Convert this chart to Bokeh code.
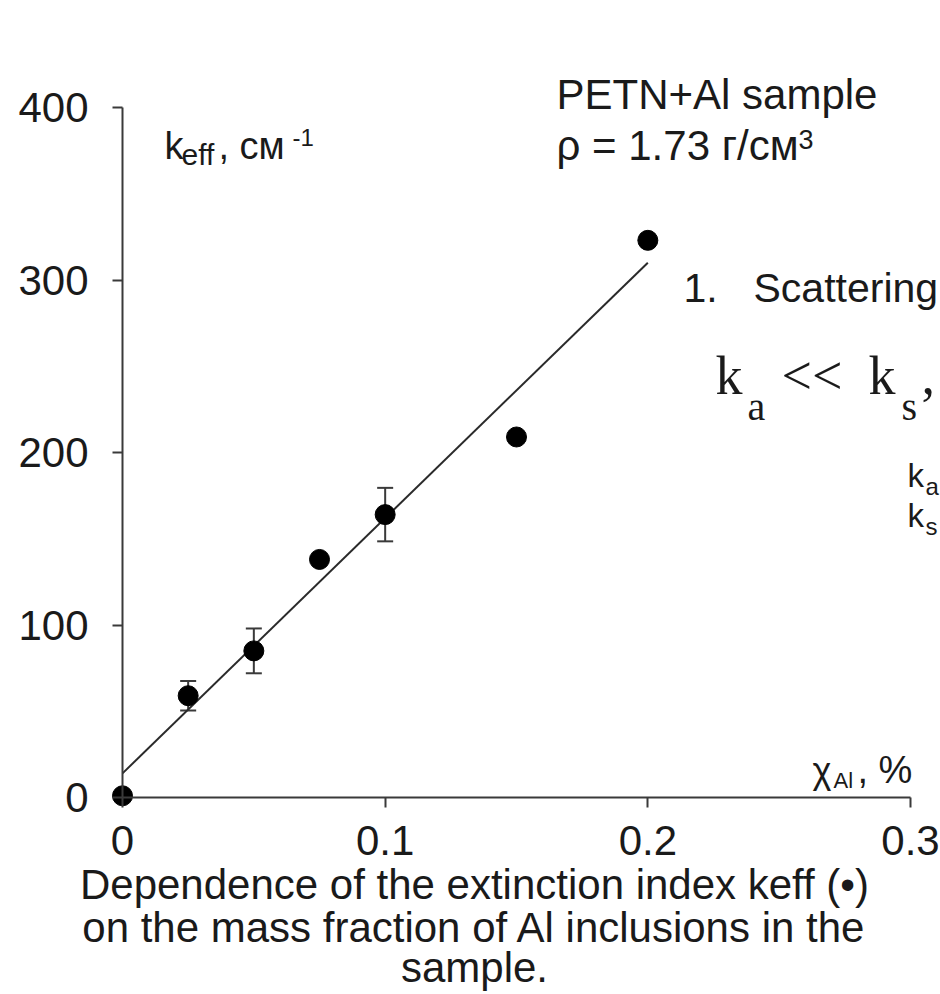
from bokeh.plotting import figure
from bokeh.models import Range1d, Label, Whisker, ColumnDataSource, FixedTicker, TeeHead
from bokeh.embed import file_html
from bokeh.resources import INLINE

# ---- data ----
x_frac = [0.0, 0.025, 0.05, 0.075, 0.1, 0.15, 0.2]      # mass fraction of Al, %
k_eff = [1, 59, 85, 138, 164, 209, 323]                  # extinction index, cm^-1
err_x = [0.025, 0.05, 0.1]
err_y = [59, 85, 164]
err_half = [8.5, 13, 15.5]
fit_x = [0.0, 0.2]
fit_y = [14, 310]
x_ticks = [0, 0.1, 0.2, 0.3]
x_tick_labels = ["0", "0.1", "0.2", "0.3"]
y_ticks = [0, 100, 200, 300, 400]
y_tick_labels = ["0", "100", "200", "300", "400"]
caption_lines = [
    "Dependence of the extinction index keff (\u2022)",
    "on the mass fraction of Al inclusions in the",
    "sample.",
]

SANS = "Liberation Sans"
SERIF = "Liberation Serif"
INK = "#1a1a1a"
AXIS = "#3a3a3a"

W, H = 940, 994
# axes placement inside the canvas (pixels)
X0_PX, X1_PX = 122, 910      # x = 0 ... 0.3
Y0_PX, Y1_PX = 797, 107      # y = 0 ... 400
XS = (X1_PX - X0_PX) / 0.3
YS = (Y0_PX - Y1_PX) / 400.0

p = figure(width=W, height=H, output_backend="svg", toolbar_location=None,
           x_range=Range1d(-X0_PX / XS, 0.3 + (W - X1_PX) / XS),
           y_range=Range1d(-(H - Y0_PX) / YS, 400 + Y1_PX / YS),
           min_border=0)
p.outline_line_color = None
p.grid.visible = False
p.background_fill_color = "white"
p.border_fill_color = "white"

p.xaxis.fixed_location = 0
p.yaxis.fixed_location = 0
p.xaxis.bounds = (0, 0.3)
p.yaxis.bounds = (0, 400)

for ax, ticks, labels, standoff in ((p.xaxis[0], x_ticks, x_tick_labels, 18),
                                   (p.yaxis[0], y_ticks, y_tick_labels, 24)):
    ax.ticker = FixedTicker(ticks=ticks)
    ax.major_label_overrides = {t: l for t, l in zip(ticks, labels)}
    ax.minor_tick_line_color = None
    ax.major_tick_in = 0
    ax.major_tick_out = 10
    ax.major_tick_line_width = 2
    ax.major_tick_line_color = AXIS
    ax.axis_line_width = 2
    ax.axis_line_color = AXIS
    ax.major_label_text_font = SANS
    ax.major_label_text_font_size = "42px"
    ax.major_label_text_color = INK
    ax.major_label_standoff = standoff

# fit line
p.line(fit_x, fit_y, line_color="#2a2a2a", line_width=2)

# error bars
err_src = ColumnDataSource(dict(
    x=err_x,
    lower=[y - e for y, e in zip(err_y, err_half)],
    upper=[y + e for y, e in zip(err_y, err_half)],
))
p.add_layout(Whisker(base="x", lower="lower", upper="upper", source=err_src,
                     dimension="height", line_color=AXIS, line_width=2,
                     upper_head=TeeHead(size=16, line_width=2, line_color=AXIS),
                     lower_head=TeeHead(size=16, line_width=2, line_color=AXIS)))

# points
p.scatter(x_frac, k_eff, size=20, fill_color="black", line_color="black")


def lab(px, base_px, text, size, font=SANS, align="left"):
    """Place a text by its left (or centre) pixel and its baseline pixel."""
    shifted = base_px - 0.39 * size
    p.add_layout(Label(x=(px - X0_PX) / XS, y=(Y0_PX - shifted) / YS,
                       text=text, text_font=font,
                       text_font_size=f"{size}px", text_color=INK,
                       text_align=align, text_baseline="alphabetic"))


# y axis title  k_eff, см^-1
lab(164, 160, "k", 38)
lab(181, 166, "eff", 30)
lab(218, 160, ", см", 38)
lab(292, 146, "-1", 24)

# x axis title  χ_Al, %
lab(812, 784, "\u03c7", 36)
lab(833, 789, "Al", 22)
lab(857, 784, ", %", 38)

# sample description
lab(556, 110, "PETN+Al sample", 42)
lab(556, 161, "\u03c1 = 1.73 г/см", 42)
lab(798, 150, "3", 27)

# right side text
lab(683, 303, "1.", 41)
lab(753, 303, "Scattering", 41)
lab(715, 397, "k", 54, SERIF)
lab(747, 422, "a", 40, SERIF)
lab(781, 397, "<<", 54, SERIF)
lab(868, 397, "k", 54, SERIF)
lab(901, 422, "s", 40, SERIF)
lab(921, 397, ",", 54, SERIF)
lab(907, 488, "k", 33)
lab(925, 495, "a", 24)
lab(907, 528, "k", 33)
lab(925, 535, "s", 24)

# caption
for line, base in zip(caption_lines, [900, 943, 983]):
    lab(474, base, line, 42, align="center")

open("out.html", "w").write(file_html(p, INLINE))
